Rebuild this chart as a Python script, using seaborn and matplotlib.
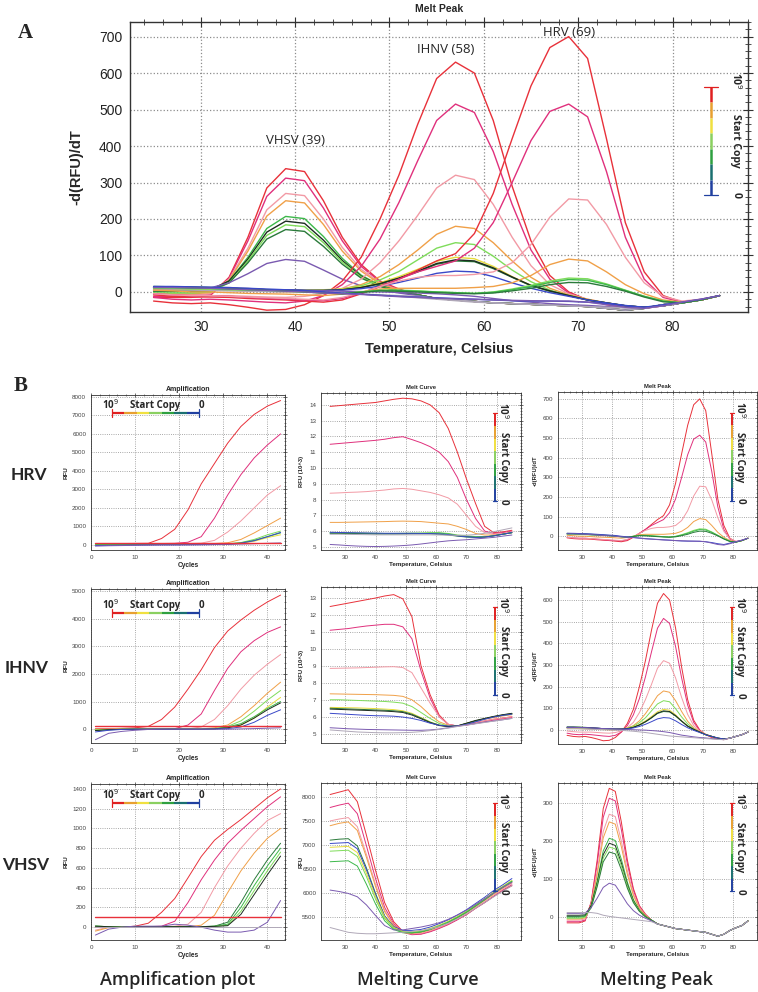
import pandas as pd
import matplotlib
matplotlib.use("Agg")
import matplotlib.pyplot as plt
from matplotlib.ticker import MultipleLocator
import seaborn as sns

sns.set_style("white")
plt.rcParams["font.family"] = ["Liberation Sans", "DejaVu Sans"]

# %% Colours of the copy-number series
COLORS = {
    "red": "#e8313a", "magenta": "#e0307c", "pink": "#f29aa5", "orange": "#f0a048",
    "yellow": "#e6dc3c", "lgreen": "#7fdc5a", "green": "#3cb84a", "dgreen": "#2a7a3a",
    "black": "#1c2c20", "blue": "#3a48c8", "purple": "#7a5ab0", "gray": "#b0a8b8",
}
BAR_COLORS = ["#e02020", "#e8a030", "#f0e040", "#8ad060", "#2ea040", "#1a7070", "#2040a0"]

# %% Shared x values
peak_temp = list(range(25, 86, 2))     # melt peak, Celsius
curve_temp = list(range(25, 86, 3))    # melt curve, Celsius
cycles = list(range(1, 44, 3))         # amplification cycles
threshold = 100

# %% Melt peak, -d(RFU)/dT
hrv_peak = {
    "red": [-8, -12, -14, -14, -15, -18, -20, -22, -25, -28, -22, -5, 15, 35, 60, 85, 105, 160, 270, 420, 565, 670, 700, 640, 420, 190, 55, -10, -28, -22, -10],
    "magenta": [-5, -8, -10, -10, -12, -15, -18, -20, -22, -24, -18, -3, 15, 35, 55, 70, 85, 120, 190, 300, 415, 495, 515, 480, 330, 150, 35, -15, -28, -22, -10],
    "pink": [-5, -8, -10, -10, -12, -14, -16, -18, -20, -22, -15, -2, 15, 30, 40, 45, 45, 48, 55, 80, 130, 205, 255, 252, 185, 95, 25, -12, -25, -20, -10],
    "orange": [5, 3, 0, 0, -2, -4, -5, -6, -8, -10, -6, 0, 8, 10, 10, 10, 10, 12, 15, 25, 45, 75, 90, 85, 55, 20, -5, -22, -28, -22, -10],
    "lgreen": [10, 10, 8, 8, 6, 5, 4, 2, 0, -2, -4, 0, 5, 5, 3, 0, -2, -4, 0, 8, 18, 30, 38, 36, 22, 5, -12, -25, -30, -22, -10],
    "green": [12, 12, 10, 10, 8, 6, 5, 3, 0, -3, -5, 0, 4, 4, 2, 0, -2, -4, -1, 6, 15, 26, 34, 32, 20, 4, -12, -25, -30, -22, -10],
    "dgreen": [15, 14, 13, 12, 10, 8, 6, 4, 1, -2, -5, -1, 3, 2, 0, -2, -4, -5, -3, 3, 10, 20, 26, 25, 15, 2, -14, -27, -30, -22, -10],
    "blue": [15, 15, 14, 13, 12, 10, 8, 6, 4, 0, -3, -6, -9, -12, -14, -16, -18, -20, -22, -24, -25, -25, -26, -28, -32, -38, -42, -35, -28, -20, -10],
    "purple": [12, 12, 11, 10, 8, 6, 4, 2, 0, -3, -5, -7, -10, -13, -15, -17, -19, -20, -22, -23, -24, -25, -25, -28, -35, -42, -45, -38, -28, -20, -10],
}
ihnv_peak = {
    "red": [-25, -30, -32, -30, -35, -42, -50, -48, -35, -10, 30, 95, 200, 320, 460, 585, 630, 600, 470, 290, 140, 45, 0, -22, -35, -42, -45, -38, -30, -22, -10],
    "magenta": [-15, -20, -22, -20, -22, -25, -28, -30, -25, -10, 20, 70, 145, 245, 360, 470, 515, 492, 385, 240, 115, 35, -3, -22, -33, -40, -43, -38, -30, -22, -10],
    "pink": [-5, -8, -10, -10, -10, -12, -14, -15, -12, -5, 10, 35, 80, 140, 210, 285, 320, 308, 240, 150, 72, 20, -5, -20, -30, -38, -42, -38, -30, -22, -10],
    "orange": [8, 8, 6, 5, 4, 3, 2, 0, 0, 2, 8, 20, 42, 75, 115, 158, 180, 174, 135, 85, 40, 10, -8, -20, -30, -38, -42, -38, -30, -22, -10],
    "lgreen": [10, 10, 9, 8, 7, 5, 4, 3, 2, 3, 8, 17, 33, 56, 88, 120, 135, 130, 98, 60, 28, 5, -10, -22, -30, -38, -42, -38, -30, -22, -10],
    "yellow": [10, 10, 10, 9, 8, 7, 6, 5, 5, 6, 8, 14, 25, 42, 62, 84, 95, 91, 70, 42, 18, 2, -10, -22, -30, -38, -42, -38, -30, -22, -10],
    "dgreen": [14, 14, 13, 12, 10, 8, 6, 5, 4, 4, 6, 12, 22, 37, 55, 76, 85, 83, 64, 40, 17, 2, -10, -22, -30, -38, -42, -38, -30, -22, -10],
    "black": [12, 12, 12, 11, 10, 8, 6, 5, 4, 4, 6, 12, 23, 38, 57, 78, 88, 85, 66, 41, 18, 3, -10, -22, -30, -38, -42, -38, -30, -22, -10],
    "blue": [12, 12, 11, 10, 9, 8, 6, 5, 4, 4, 5, 9, 16, 26, 38, 51, 57, 55, 42, 25, 10, -2, -12, -22, -30, -37, -42, -38, -30, -22, -10],
    "purple": [12, 12, 11, 10, 9, 8, 6, 5, 4, 3, 2, 1, 0, -1, -3, -5, -8, -12, -18, -24, -28, -32, -35, -37, -40, -43, -45, -38, -30, -22, -10],
    "gray": [5, 5, 5, 4, 3, 2, 1, 0, -1, -2, -4, -6, -9, -12, -16, -20, -24, -28, -30, -32, -34, -36, -38, -40, -42, -44, -45, -38, -30, -22, -10],
}
vhsv_peak = {
    "red": [-15, -15, -15, -10, 40, 150, 285, 338, 330, 250, 150, 75, 30, 8, -8, -18, -22, -26, -30, -32, -34, -36, -38, -40, -45, -50, -45, -35, -28, -22, -10],
    "magenta": [-12, -12, -12, -8, 38, 140, 262, 312, 305, 230, 140, 70, 28, 6, -8, -18, -22, -26, -30, -32, -34, -36, -38, -40, -45, -50, -45, -35, -28, -22, -10],
    "pink": [-8, -8, -8, -5, 35, 120, 225, 270, 264, 200, 122, 62, 25, 5, -8, -18, -22, -26, -30, -32, -34, -36, -38, -40, -45, -50, -45, -35, -28, -22, -10],
    "orange": [-5, -5, -5, -2, 32, 112, 208, 250, 244, 185, 112, 57, 22, 4, -8, -18, -22, -26, -30, -32, -34, -36, -38, -40, -45, -50, -45, -35, -28, -22, -10],
    "green": [0, 0, 0, 2, 30, 95, 174, 207, 201, 152, 92, 46, 18, 2, -8, -18, -22, -26, -30, -32, -34, -36, -38, -40, -45, -50, -45, -35, -28, -22, -10],
    "black": [5, 5, 5, 6, 30, 90, 164, 194, 188, 142, 86, 43, 17, 2, -8, -18, -22, -26, -30, -32, -34, -36, -38, -40, -45, -50, -45, -35, -28, -22, -10],
    "lgreen": [-3, -3, -3, 0, 25, 85, 155, 184, 179, 135, 82, 41, 16, 2, -8, -18, -22, -26, -30, -32, -34, -36, -38, -40, -45, -50, -45, -35, -28, -22, -10],
    "dgreen": [2, 2, 2, 4, 25, 80, 145, 171, 166, 125, 76, 38, 15, 1, -8, -18, -22, -26, -30, -32, -34, -36, -38, -40, -45, -50, -45, -35, -28, -22, -10],
    "purple": [10, 10, 10, 11, 25, 50, 78, 89, 84, 60, 35, 17, 5, -3, -10, -18, -22, -26, -30, -32, -34, -36, -38, -40, -45, -50, -45, -35, -28, -22, -10],
    "gray": [12, 12, 12, 12, 12, 10, 5, 2, 0, -2, -4, -6, -8, -10, -12, -18, -22, -26, -30, -32, -34, -36, -38, -40, -45, -50, -45, -35, -28, -22, -10],
}

# %% Melt curve, RFU
hrv_curve = {
    "red": [13.9, 13.95, 14.0, 14.05, 14.1, 14.15, 14.25, 14.35, 14.42, 14.38, 14.25, 14.0, 13.5, 12.5, 11.0, 9.3, 7.75, 6.3, 5.9, 5.95, 6.05],
    "magenta": [11.5, 11.55, 11.6, 11.65, 11.7, 11.75, 11.82, 11.92, 11.98, 11.8, 11.6, 11.35, 11.0, 10.4, 9.4, 8.0, 6.8, 6.0, 5.85, 5.9, 6.0],
    "pink": [8.4, 8.42, 8.45, 8.47, 8.5, 8.55, 8.6, 8.67, 8.7, 8.65, 8.55, 8.45, 8.3, 8.1, 7.7, 7.0, 6.3, 5.9, 5.8, 5.85, 5.95],
    "orange": [6.55, 6.55, 6.56, 6.57, 6.58, 6.59, 6.6, 6.62, 6.63, 6.62, 6.6, 6.55, 6.5, 6.45, 6.3, 6.1, 5.85, 5.75, 5.75, 5.8, 5.9],
    "lgreen": [5.9, 5.9, 5.9, 5.88, 5.87, 5.86, 5.85, 5.85, 5.86, 5.87, 5.88, 5.9, 5.9, 5.85, 5.75, 5.7, 5.65, 5.65, 5.7, 5.8, 5.9],
    "green": [5.88, 5.87, 5.86, 5.85, 5.84, 5.83, 5.83, 5.83, 5.84, 5.85, 5.85, 5.86, 5.87, 5.82, 5.72, 5.66, 5.62, 5.62, 5.7, 5.8, 5.9],
    "dgreen": [5.85, 5.85, 5.84, 5.84, 5.83, 5.82, 5.82, 5.82, 5.82, 5.83, 5.83, 5.83, 5.8, 5.75, 5.68, 5.62, 5.6, 5.62, 5.7, 5.8, 5.9],
    "blue": [5.92, 5.91, 5.9, 5.89, 5.88, 5.87, 5.86, 5.86, 5.86, 5.86, 5.85, 5.84, 5.82, 5.78, 5.7, 5.64, 5.6, 5.62, 5.7, 5.8, 5.9],
    "purple": [5.15, 5.12, 5.08, 5.05, 5.03, 5.02, 5.03, 5.05, 5.08, 5.12, 5.18, 5.25, 5.32, 5.38, 5.42, 5.45, 5.5, 5.55, 5.6, 5.68, 5.75],
    "gray": [5.8, 5.8, 5.79, 5.78, 5.77, 5.76, 5.76, 5.76, 5.76, 5.76, 5.76, 5.76, 5.75, 5.74, 5.73, 5.74, 5.78, 5.86, 5.96, 6.08, 6.2],
}
ihnv_curve = {
    "red": [12.5, 12.6, 12.7, 12.8, 12.9, 13.0, 13.12, 13.2, 12.95, 11.9, 9.0, 7.3, 6.1, 5.55, 5.45, 5.55, 5.65, 5.75, 5.85, 5.92, 6.0],
    "magenta": [11.1, 11.15, 11.2, 11.28, 11.35, 11.4, 11.45, 11.45, 11.3, 10.6, 8.7, 7.1, 6.0, 5.55, 5.45, 5.5, 5.6, 5.7, 5.8, 5.88, 5.95],
    "pink": [8.85, 8.86, 8.87, 8.88, 8.9, 8.92, 8.94, 8.95, 8.9, 8.6, 7.7, 6.8, 6.0, 5.55, 5.45, 5.55, 5.65, 5.75, 5.85, 5.92, 6.0],
    "orange": [7.35, 7.34, 7.33, 7.32, 7.31, 7.3, 7.28, 7.26, 7.2, 7.0, 6.6, 6.1, 5.7, 5.5, 5.45, 5.6, 5.75, 5.85, 5.95, 6.05, 6.12],
    "lgreen": [7.0, 7.0, 6.98, 6.96, 6.94, 6.92, 6.9, 6.86, 6.8, 6.6, 6.25, 5.9, 5.6, 5.45, 5.45, 5.6, 5.75, 5.88, 6.0, 6.08, 6.15],
    "yellow": [6.55, 6.54, 6.53, 6.52, 6.5, 6.48, 6.45, 6.42, 6.35, 6.2, 5.95, 5.7, 5.5, 5.42, 5.45, 5.6, 5.75, 5.88, 6.0, 6.1, 6.18],
    "dgreen": [6.5, 6.48, 6.46, 6.44, 6.42, 6.4, 6.38, 6.35, 6.3, 6.15, 5.92, 5.68, 5.5, 5.42, 5.45, 5.6, 5.75, 5.88, 6.0, 6.1, 6.18],
    "black": [6.45, 6.43, 6.41, 6.39, 6.37, 6.35, 6.33, 6.3, 6.25, 6.1, 5.88, 5.65, 5.48, 5.42, 5.46, 5.62, 5.78, 5.9, 6.02, 6.12, 6.2],
    "blue": [6.2, 6.17, 6.14, 6.11, 6.08, 6.06, 6.05, 6.03, 5.98, 5.9, 5.78, 5.62, 5.5, 5.45, 5.45, 5.55, 5.7, 5.85, 5.98, 6.08, 6.15],
    "purple": [5.35, 5.32, 5.29, 5.27, 5.25, 5.24, 5.23, 5.22, 5.21, 5.2, 5.2, 5.22, 5.27, 5.35, 5.45, 5.52, 5.6, 5.68, 5.75, 5.82, 5.9],
    "gray": [5.22, 5.18, 5.14, 5.1, 5.08, 5.06, 5.05, 5.05, 5.06, 5.08, 5.12, 5.18, 5.25, 5.33, 5.42, 5.5, 5.58, 5.66, 5.74, 5.82, 5.9],
}
vhsv_curve = {
    "red": [8050, 8100, 8150, 7900, 7200, 6470, 5800, 5400, 5200, 5150, 5150, 5200, 5270, 5350, 5450, 5550, 5680, 5800, 5930, 6050, 6150],
    "magenta": [7780, 7830, 7870, 7650, 6980, 6300, 5700, 5360, 5180, 5130, 5140, 5190, 5260, 5340, 5440, 5550, 5680, 5800, 5930, 6060, 6170],
    "pink": [7500, 7540, 7570, 7380, 6800, 6180, 5640, 5330, 5180, 5150, 5160, 5210, 5280, 5360, 5460, 5570, 5700, 5830, 5960, 6080, 6200],
    "orange": [7400, 7450, 7480, 7300, 6740, 6130, 5610, 5320, 5180, 5160, 5180, 5230, 5300, 5380, 5480, 5590, 5720, 5850, 5980, 6100, 6220],
    "dgreen": [7100, 7120, 7130, 6980, 6520, 5990, 5520, 5280, 5180, 5170, 5190, 5240, 5310, 5390, 5490, 5600, 5730, 5860, 6000, 6120, 6240],
    "blue": [7030, 7040, 7050, 6920, 6480, 5960, 5520, 5300, 5220, 5220, 5240, 5290, 5360, 5440, 5540, 5650, 5780, 5910, 6050, 6170, 6300],
    "yellow": [6950, 6960, 6970, 6840, 6410, 5920, 5500, 5280, 5200, 5190, 5210, 5260, 5330, 5410, 5510, 5620, 5750, 5880, 6020, 6140, 6260],
    "lgreen": [6870, 6880, 6890, 6760, 6340, 5870, 5470, 5260, 5190, 5180, 5200, 5250, 5320, 5400, 5500, 5610, 5740, 5870, 6010, 6130, 6250],
    "green": [6650, 6660, 6670, 6560, 6180, 5770, 5420, 5240, 5170, 5170, 5190, 5240, 5310, 5390, 5490, 5600, 5730, 5860, 6000, 6120, 6240],
    "purple": [6060, 6030, 5990, 5920, 5750, 5530, 5320, 5230, 5230, 5260, 5290, 5330, 5380, 5450, 5540, 5640, 5760, 5880, 6000, 6120, 6220],
    "gray": [5280, 5230, 5180, 5160, 5150, 5150, 5160, 5170, 5180, 5200, 5220, 5250, 5300, 5370, 5460, 5560, 5680, 5800, 5920, 6040, 6150],
}

# %% Amplification, RFU
hrv_amp = {
    "red": [80, 80, 80, 85, 90, 350, 850, 1900, 3300, 4400, 5500, 6400, 7050, 7500, 7800],
    "magenta": [80, 80, 80, 80, 80, 80, 90, 150, 450, 1450, 2700, 3800, 4700, 5400, 6000],
    "pink": [70, 70, 70, 70, 70, 70, 70, 75, 100, 250, 700, 1300, 2000, 2700, 3200],
    "orange": [60, 60, 60, 60, 60, 60, 60, 60, 65, 80, 120, 300, 650, 1050, 1450],
    "lgreen": [50, 50, 50, 50, 50, 50, 50, 50, 50, 55, 70, 130, 300, 550, 750],
    "yellow": [40, 40, 40, 40, 40, 40, 40, 40, 40, 45, 55, 100, 200, 400, 550],
    "green": [30, 30, 30, 30, 30, 30, 30, 30, 30, 35, 50, 120, 250, 450, 650],
    "blue": [-30, -20, -10, 0, 5, 10, 10, 15, 20, 25, 40, 100, 230, 450, 680],
    "purple": [-60, -40, -30, -20, -10, 0, 0, 5, 10, 20, 30, 50, 70, 90, 110],
}
ihnv_amp = {
    "red": [20, 20, 30, 50, 100, 350, 800, 1450, 2150, 2950, 3550, 3950, 4300, 4600, 4850],
    "magenta": [0, 0, 0, 0, 0, 5, 20, 150, 550, 1400, 2200, 2800, 3200, 3500, 3700],
    "pink": [0, 0, 0, 0, 0, 0, 0, 10, 80, 350, 850, 1450, 1950, 2350, 2700],
    "orange": [0, 0, 0, 0, 0, 0, 0, 0, 10, 50, 150, 450, 850, 1300, 1700],
    "lgreen": [-20, -10, 0, 0, 0, 0, 0, 0, 0, 20, 100, 300, 650, 1050, 1400],
    "yellow": [-30, -10, 0, 0, 0, 0, 0, 0, 0, 10, 50, 150, 400, 800, 1150],
    "green": [-40, -20, -5, 0, 0, 0, 0, 0, 0, 10, 80, 200, 450, 750, 1000],
    "black": [-50, -20, -5, 0, 0, 0, 0, 0, 0, 10, 50, 150, 400, 700, 950],
    "blue": [-100, -40, -10, 0, 0, 0, 0, 0, 0, 5, 20, 80, 250, 500, 700],
    "purple": [-380, -150, -80, -40, -10, 0, 0, 0, 0, 0, 0, 10, 20, 35, 50],
}
vhsv_amp = {
    "red": [0, 0, 0, 10, 40, 150, 290, 500, 715, 880, 990, 1090, 1200, 1310, 1400],
    "magenta": [0, 0, 0, 5, 5, 10, 60, 250, 480, 680, 850, 980, 1100, 1220, 1320],
    "pink": [-30, 0, 0, 5, 5, 5, 10, 30, 150, 400, 620, 800, 950, 1080, 1150],
    "orange": [-40, -5, 0, 5, 5, 5, 5, 5, 20, 120, 350, 570, 750, 900, 1000],
    "dgreen": [10, 5, 0, 5, 5, 5, 5, 5, 5, 10, 50, 250, 480, 680, 850],
    "green": [10, 5, 0, 5, 5, 5, 5, 5, 5, 10, 30, 200, 420, 620, 800],
    "lgreen": [10, 5, 0, 5, 5, 5, 5, 5, 5, 8, 20, 160, 370, 570, 760],
    "black": [10, 5, 0, 5, 5, 5, 5, 5, 5, 8, 15, 130, 330, 530, 720],
    "purple": [-80, -20, 0, 10, 10, 10, 30, 20, 0, -30, -50, -50, -30, 50, 270],
    "gray": [0, 0, 0, 0, 0, 0, 0, 0, 0, 0, 0, 0, 0, 0, 0],
}

W, H = 758, 992
fig = plt.figure(figsize=(W / 100, H / 100), dpi=100)


def add_ax(l, r, t, b):
    return fig.add_axes([l / W, 1 - b / H, (r - l) / W, (b - t) / H])


def draw_lines(ax, x, curves, tag, lw):
    rows = []
    for color, vals in curves.items():
        for xi, yi in zip(x, vals):
            rows.append({"x": xi, "y": yi, "color": color, "cid": tag + color})
    df = pd.DataFrame(rows)
    sns.lineplot(data=df, x="x", y="y", hue="color", units="cid", estimator=None,
                 palette=COLORS, legend=False, linewidth=lw, sort=False, ax=ax)


def style_ax(ax, xmaj, xmin, ymaj, ymin, size, big=False):
    ax.xaxis.set_major_locator(MultipleLocator(xmaj))
    ax.xaxis.set_minor_locator(MultipleLocator(xmin))
    ax.yaxis.set_major_locator(MultipleLocator(ymaj))
    ax.yaxis.set_minor_locator(MultipleLocator(ymin))
    ax.grid(True, which="major", linestyle=":", color="#8c8c8c", linewidth=0.9 if big else 0.6)
    ax.tick_params(which="both", direction="inout", top=True, right=True, color="#333333")
    ax.tick_params(which="major", length=7 if big else 3, width=0.8 if big else 0.5,
                   labelsize=size, labelcolor="#222222" if big else "#444444", pad=2)
    ax.tick_params(which="minor", length=4 if big else 1.6, width=0.6 if big else 0.4)
    for s in ax.spines.values():
        s.set_linewidth(1.0 if big else 0.6)
        s.set_color("#333333")


def copy_bar(ax, x0, y0, x1, y1, fs, lw):
    # colour legend "Start Copy" drawn in axes coordinates
    vertical = x0 == x1
    n = len(BAR_COLORS)
    for i, c in enumerate(BAR_COLORS):
        a, b = i / n, (i + 1) / n
        ax.plot([x0 + (x1 - x0) * a, x0 + (x1 - x0) * b], [y0 + (y1 - y0) * a, y0 + (y1 - y0) * b],
                color=c, lw=lw, transform=ax.transAxes, solid_capstyle="butt", clip_on=False)
    cap = 0.012 if vertical else 0.025
    for (x, y), c in [((x0, y0), BAR_COLORS[0]), ((x1, y1), BAR_COLORS[-1])]:
        if vertical:
            ax.plot([x - cap, x + cap], [y, y], color=c, lw=0.9, transform=ax.transAxes, clip_on=False)
        else:
            ax.plot([x, x], [y - cap, y + cap], color=c, lw=0.9, transform=ax.transAxes, clip_on=False)
    kw = dict(transform=ax.transAxes, fontsize=fs, fontweight="bold", ha="center", va="center",
              family=["Open Sans", "DejaVu Sans"])
    if vertical:
        off = 0.04 if fs < 8 else 0.017
        ax.text(x0 + off, y0 + 0.02, "10$^{9}$", rotation=-90, **kw)
        ax.text(x0 + off, (y0 + y1) / 2, "Start Copy", rotation=-90, **kw)
        ax.text(x0 + off, y1, "0", rotation=-90, **kw)
    else:
        ax.text(x0 - 0.01, y0 + 0.05, "10$^{9}$", **kw)
        ax.text((x0 + x1) / 2, y0 + 0.05, "Start Copy", **kw)
        ax.text(x1 + 0.01, y0 + 0.05, "0", **kw)


# %% Panel A: combined melt peak
axA = add_ax(130, 748, 22, 312)
draw_lines(axA, peak_temp, vhsv_peak, "V", 1.0)
draw_lines(axA, peak_temp, ihnv_peak, "I", 1.0)
draw_lines(axA, peak_temp, hrv_peak, "H", 1.0)
axA.set_xlim(22.5, 88)
axA.set_ylim(-55, 740)
style_ax(axA, 10, 2, 100, 20, 10, big=True)
axA.set_title("Melt Peak", fontsize=7.5, fontweight="bold", pad=7)
axA.set_xlabel("Temperature, Celsius", fontsize=10.5, fontweight="bold")
axA.set_ylabel("-d(RFU)/dT", fontsize=10.5, fontweight="bold")
axA.xaxis.set_label_coords(0.5, -0.105)
axA.yaxis.set_label_coords(-0.075, 0.5)
for label, xt, yt in [("VHSV (39)", 40.0, 415), ("IHNV (58)", 56.0, 665), ("HRV (69)", 69.0, 712)]:
    axA.text(xt, yt, label, fontsize=9.5, ha="center", va="center", family=["Open Sans", "DejaVu Sans"])
copy_bar(axA, 0.94, 0.776, 0.94, 0.403, 7.5, 1.8)

# %% Panel B: 3 x 3 grid
rows = [
    ("HRV", hrv_amp, hrv_curve, hrv_peak, (-270, 8100, 1000), (4.8, 14.75, 1), (-70, 735, 100),
     "RFU (10^3)", (395, 550), (393, 550), (392, 550), 0.884, 475, 29),
    ("IHNV", ihnv_amp, ihnv_curve, ihnv_peak, (-500, 5070, 1000), (4.45, 13.65, 1), (-65, 660, 100),
     "RFU (10^3)", (589, 743), (587, 743), (587, 744), 0.844, 668, 27),
    ("VHSV", vhsv_amp, vhsv_curve, vhsv_peak, (-130, 1450, 200), (5020, 8290, 500), (-60, 352, 100),
     "RFU", (784, 940), (783, 940), (783, 940), 0.878, 865, 26),
]
for (name, amp, curve, peak, ylim_a, ylim_c, ylim_p, clabel,
     tb_a, tb_c, tb_p, bar_y, label_y, label_x) in rows:
    ax1 = add_ax(91, 285, *tb_a)
    draw_lines(ax1, cycles, amp, name, 0.7)
    ax1.axhline(threshold, color=COLORS["red"], lw=1.0, xmin=1 / 44, xmax=43 / 44)
    ax1.set_xlim(0, 44)
    ax1.set_ylim(ylim_a[0], ylim_a[1])
    style_ax(ax1, 10, 2, ylim_a[2], ylim_a[2] / 5, 4.5)
    ax1.set_title("Amplification", fontsize=5, fontweight="bold", pad=3)
    ax1.set_xlabel("Cycles", fontsize=4.8, fontweight="bold")
    ax1.set_ylabel("RFU", fontsize=4.5, fontweight="bold")
    ax1.xaxis.set_label_coords(0.5, -0.075)
    ax1.yaxis.set_label_coords(-0.115, 0.5)
    copy_bar(ax1, 0.108, bar_y, 0.557, bar_y, 7, 1.6)

    ax2 = add_ax(321, 521, *tb_c)
    draw_lines(ax2, curve_temp, curve, name, 0.7)
    ax2.set_xlim(22, 88)
    ax2.set_ylim(ylim_c[0], ylim_c[1])
    style_ax(ax2, 10, 2, ylim_c[2], ylim_c[2] / 5, 4.5)
    ax2.set_title("Melt Curve", fontsize=4.2, fontweight="bold", pad=3)
    ax2.set_xlabel("Temperature, Celsius", fontsize=4.5, fontweight="bold")
    ax2.set_ylabel(clabel, fontsize=4.2, fontweight="bold")
    ax2.xaxis.set_label_coords(0.5, -0.075)
    ax2.yaxis.set_label_coords(-0.085, 0.5)
    copy_bar(ax2, 0.87, 0.87, 0.87, 0.31, 7, 1.4)

    ax3 = add_ax(558, 757, *tb_p)
    draw_lines(ax3, peak_temp, peak, name, 0.7)
    ax3.set_xlim(22, 88)
    ax3.set_ylim(ylim_p[0], ylim_p[1])
    style_ax(ax3, 10, 2, ylim_p[2], ylim_p[2] / 5, 4.5)
    ax3.set_title("Melt Peak", fontsize=4.2, fontweight="bold", pad=3)
    ax3.set_xlabel("Temperature, Celsius", fontsize=4.5, fontweight="bold")
    ax3.set_ylabel("-d(RFU)/dT", fontsize=4.2, fontweight="bold")
    ax3.xaxis.set_label_coords(0.5, -0.075)
    ax3.yaxis.set_label_coords(-0.1, 0.5)
    copy_bar(ax3, 0.874, 0.87, 0.874, 0.31, 7, 1.4)

    fig.text(label_x / W, 1 - label_y / H, name, fontsize=12.5, fontweight="bold", ha="center", va="center",
             family=["Lato", "DejaVu Sans"])

# %% Panel letters and column captions
for letter, x, y in [("A", 25, 33), ("B", 21, 386)]:
    fig.text(x / W, 1 - y / H, letter, fontsize=15, fontweight="bold", ha="center", va="center",
             family=["Liberation Serif", "DejaVu Serif"])
for caption, x in [("Amplification plot", 178), ("Melting Curve", 418), ("Melting Peak", 657)]:
    fig.text(x / W, 1 - 980 / H, caption, fontsize=13, fontweight="semibold", ha="center", va="center",
             family=["Open Sans", "DejaVu Sans"])

fig.savefig("out.png", dpi=100)
